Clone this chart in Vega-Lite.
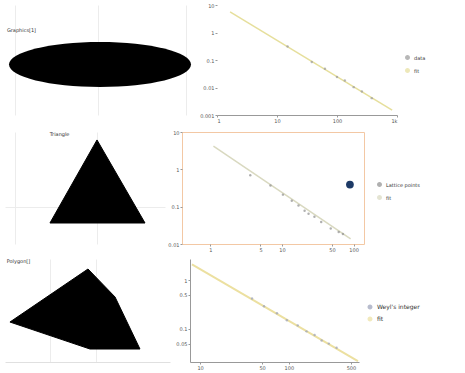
{
  "$schema": "https://vega.github.io/schema/vega-lite/v6.json",
  "padding": {"left": 5, "top": 3, "right": 0, "bottom": 0},
  "background": "white",
  "config": {
    "font": "DejaVu Sans",
    "view": {"stroke": null},
    "axis": {"labelFontSize": 5, "tickSize": 2, "labelPadding": 1, "domainColor": "#999", "tickColor": "#999", "labelColor": "#555", "grid": false, "title": null},
    "legend": {"labelFontSize": 5, "symbolSize": 12, "rowPadding": 2, "title": null, "labelColor": "#333"}
  },
  "datasets": {
    "shape1": [{"x": 0.5, "y": 0.46}],
    "label1": [{"x": 0.01, "y": 0.77, "t": "Graphics[1]"}],
    "tri": [{"i": 0, "x": 0.575, "y": 0.929}, {"i": 1, "x": 0.875, "y": 0.1875}, {"i": 2, "x": 0.281, "y": 0.1875}],
    "label2": [{"x": 0.28, "y": 0.985, "t": "Triangle"}],
    "poly": [{"i": 0, "x": 0.03, "y": 0.388}, {"i": 1, "x": 0.503, "y": 0.903}, {"i": 2, "x": 0.667, "y": 0.631}, {"i": 3, "x": 0.818, "y": 0.126}, {"i": 4, "x": 0.515, "y": 0.126}],
    "label3": [{"x": 0.01, "y": 0.98, "t": "Polygon[]"}],
    "pts1": [
      {"x": 15, "y": 0.31, "series": "data"}, {"x": 38, "y": 0.085, "series": "data"}, {"x": 63, "y": 0.048, "series": "data"},
      {"x": 100, "y": 0.024, "series": "data"}, {"x": 135, "y": 0.018, "series": "data"}, {"x": 190, "y": 0.0103, "series": "data"},
      {"x": 260, "y": 0.0072, "series": "data"}, {"x": 380, "y": 0.0041, "series": "data"}
    ],
    "fit1": [{"x": 1.65, "y": 5.6, "series": "fit"}, {"x": 830, "y": 0.0015, "series": "fit"}],
    "pts2": [
      {"x": 3.6, "y": 0.69, "series": "Lattice points"}, {"x": 6.9, "y": 0.37, "series": "Lattice points"}, {"x": 10.3, "y": 0.21, "series": "Lattice points"},
      {"x": 13.7, "y": 0.144, "series": "Lattice points"}, {"x": 17, "y": 0.107, "series": "Lattice points"}, {"x": 20.7, "y": 0.078, "series": "Lattice points"},
      {"x": 23.5, "y": 0.065, "series": "Lattice points"}, {"x": 28.4, "y": 0.054, "series": "Lattice points"}, {"x": 35.3, "y": 0.039, "series": "Lattice points"},
      {"x": 48, "y": 0.026, "series": "Lattice points"}, {"x": 62, "y": 0.021, "series": "Lattice points"}, {"x": 71, "y": 0.0185, "series": "Lattice points"}
    ],
    "fit2": [{"x": 1.1, "y": 4.17, "series": "fit"}, {"x": 91, "y": 0.0138, "series": "fit"}],
    "out2": [{"x": 89, "y": 0.39}],
    "pts3": [
      {"x": 38.5, "y": 0.42, "series": "Weyl's integer"}, {"x": 52.5, "y": 0.29, "series": "Weyl's integer"}, {"x": 73.5, "y": 0.21, "series": "Weyl's integer"},
      {"x": 95, "y": 0.15, "series": "Weyl's integer"}, {"x": 126, "y": 0.118, "series": "Weyl's integer"}, {"x": 158, "y": 0.089, "series": "Weyl's integer"},
      {"x": 195, "y": 0.075, "series": "Weyl's integer"}, {"x": 234, "y": 0.058, "series": "Weyl's integer"}, {"x": 282, "y": 0.05, "series": "Weyl's integer"},
      {"x": 345, "y": 0.041, "series": "Weyl's integer"}
    ],
    "fit3": [{"x": 8.1, "y": 2.1, "series": "fit"}, {"x": 600, "y": 0.022, "series": "fit"}]
  },
  "spacing": 6,
  "resolve": {"scale": {"color": "independent"}, "legend": {"color": "independent"}},
  "vconcat": [
    {
      "spacing": 4,
      "resolve": {"scale": {"color": "independent"}, "legend": {"color": "independent"}},
      "hconcat": [
        {
          "width": 190, "height": 110,
          "layer": [
            {
              "data": {"name": "shape1"},
              "mark": {"type": "point", "filled": true, "color": "black", "opacity": 1, "size": 33124, "shape": "M -1 0 A 1 0.247 0 1 0 1 0 A 1 0.247 0 1 0 -1 0 Z"},
              "encoding": {
                "x": {"field": "x", "type": "quantitative", "scale": {"domain": [0, 1]}, "axis": {"labels": false, "ticks": false, "domain": false, "grid": true, "gridColor": "#ececec", "values": [0.05, 0.49, 0.95]}},
                "y": {"field": "y", "type": "quantitative", "scale": {"domain": [0, 1]}, "axis": null}
              }
            },
            {
              "data": {"name": "label1"},
              "mark": {"type": "text", "align": "left", "fontSize": 5, "color": "#333"},
              "encoding": {"x": {"field": "x", "type": "quantitative"}, "y": {"field": "y", "type": "quantitative"}, "text": {"field": "t"}}
            }
          ]
        },
        {
          "width": 180, "height": 110,
          "layer": [
            {
              "data": {"name": "fit1"},
              "mark": {"type": "line", "strokeWidth": 1.5},
              "encoding": {
                "x": {"field": "x", "type": "quantitative", "scale": {"type": "log", "domain": [1, 1000], "nice": false}, "axis": {"values": [1, 10, 100, 1000], "format": "~s"}},
                "y": {"field": "y", "type": "quantitative", "scale": {"type": "log", "domain": [0.001, 10], "nice": false}, "axis": {"values": [0.001, 0.01, 0.1, 1, 10], "format": "~g", "domain": false}},
                "color": {"field": "series", "type": "nominal", "scale": {"domain": ["data", "fit"], "range": ["#9a9a9a", "#e6df9c"]}, "legend": {"orient": "none", "legendX": 188, "legendY": 50}}
              }
            },
            {
              "data": {"name": "pts1"},
              "mark": {"type": "point", "filled": true, "size": 6},
              "encoding": {
                "x": {"field": "x", "type": "quantitative"},
                "y": {"field": "y", "type": "quantitative"},
                "color": {"field": "series", "type": "nominal"}
              }
            }
          ]
        }
      ]
    },
    {
      "spacing": 2,
      "resolve": {"scale": {"color": "independent"}, "legend": {"color": "independent"}},
      "hconcat": [
        {
          "width": 160, "height": 112,
          "layer": [
            {
              "data": {"name": "tri"},
              "mark": {"type": "line", "interpolate": "linear-closed", "fill": "black", "stroke": "black", "strokeWidth": 1},
              "encoding": {
                "x": {"field": "x", "type": "quantitative", "scale": {"domain": [0, 1]}, "axis": {"labels": false, "ticks": false, "domain": false, "grid": true, "gridColor": "#ececec", "values": [0.06, 0.575]}},
                "y": {"field": "y", "type": "quantitative", "scale": {"domain": [0, 1]}, "axis": {"labels": false, "ticks": false, "domain": false, "grid": true, "gridColor": "#ececec", "values": [0.33]}},
                "order": {"field": "i", "type": "quantitative"}
              }
            },
            {
              "data": {"name": "label2"},
              "mark": {"type": "text", "align": "left", "fontSize": 5, "color": "#333"},
              "encoding": {"x": {"field": "x", "type": "quantitative"}, "y": {"field": "y", "type": "quantitative"}, "text": {"field": "t"}}
            }
          ]
        },
        {
          "width": 182, "height": 112,
          "view": {"stroke": "#f3c8a4", "strokeWidth": 1},
          "layer": [
            {
              "data": {"name": "fit2"},
              "mark": {"type": "line", "strokeWidth": 1.5},
              "encoding": {
                "x": {"field": "x", "type": "quantitative", "scale": {"type": "log", "domain": [0.4, 140], "nice": false}, "axis": {"values": [1, 5, 10, 50, 100], "format": "~g", "domain": false}},
                "y": {"field": "y", "type": "quantitative", "scale": {"type": "log", "domain": [0.01, 10], "nice": false}, "axis": {"values": [0.01, 0.1, 1, 10], "format": "~g", "domain": false}},
                "color": {"field": "series", "type": "nominal", "scale": {"domain": ["Lattice points", "fit"], "range": ["#8f8f8f", "#d9d9c0"]}, "legend": {"orient": "none", "legendX": 195, "legendY": 50}}
              }
            },
            {
              "data": {"name": "pts2"},
              "mark": {"type": "point", "filled": true, "size": 6},
              "encoding": {
                "x": {"field": "x", "type": "quantitative"},
                "y": {"field": "y", "type": "quantitative"},
                "color": {"field": "series", "type": "nominal"}
              }
            },
            {
              "data": {"name": "out2"},
              "mark": {"type": "point", "filled": true, "size": 60, "color": "#1d3a66", "opacity": 1},
              "encoding": {
                "x": {"field": "x", "type": "quantitative"},
                "y": {"field": "y", "type": "quantitative"}
              }
            }
          ]
        }
      ]
    },
    {
      "spacing": 5,
      "resolve": {"scale": {"color": "independent"}, "legend": {"color": "independent"}},
      "hconcat": [
        {
          "width": 165, "height": 103,
          "layer": [
            {
              "data": {"name": "poly"},
              "mark": {"type": "line", "interpolate": "linear-closed", "fill": "black", "stroke": "black", "strokeWidth": 1},
              "encoding": {
                "x": {"field": "x", "type": "quantitative", "scale": {"domain": [0, 1]}, "axis": {"labels": false, "ticks": false, "domain": true, "domainColor": "#e0e0e0", "grid": true, "gridColor": "#ececec", "values": [0.27, 0.55]}},
                "y": {"field": "y", "type": "quantitative", "scale": {"domain": [0, 1]}, "axis": null},
                "order": {"field": "i", "type": "quantitative"}
              }
            },
            {
              "data": {"name": "label3"},
              "mark": {"type": "text", "align": "left", "fontSize": 5, "color": "#333"},
              "encoding": {"x": {"field": "x", "type": "quantitative"}, "y": {"field": "y", "type": "quantitative"}, "text": {"field": "t"}}
            }
          ]
        },
        {
          "width": 169, "height": 103,
          "layer": [
            {
              "data": {"name": "fit3"},
              "mark": {"type": "line", "strokeWidth": 2},
              "encoding": {
                "x": {"field": "x", "type": "quantitative", "scale": {"type": "log", "domain": [7.7, 617], "nice": false}, "axis": {"values": [10, 50, 100, 500], "format": "~g"}},
                "y": {"field": "y", "type": "quantitative", "scale": {"type": "log", "domain": [0.021, 2.7], "nice": false}, "axis": {"values": [0.05, 0.1, 0.5, 1], "format": ".2~f"}},
                "color": {"field": "series", "type": "nominal", "scale": {"domain": ["Weyl's integer", "fit"], "range": ["#9aa0b8", "#ece0a0"]}, "legend": {"orient": "none", "legendX": 177, "legendY": 45, "labelFontSize": 6}}
              }
            },
            {
              "data": {"name": "pts3"},
              "mark": {"type": "point", "filled": true, "size": 6},
              "encoding": {
                "x": {"field": "x", "type": "quantitative"},
                "y": {"field": "y", "type": "quantitative"},
                "color": {"field": "series", "type": "nominal"}
              }
            }
          ]
        }
      ]
    }
  ]
}
